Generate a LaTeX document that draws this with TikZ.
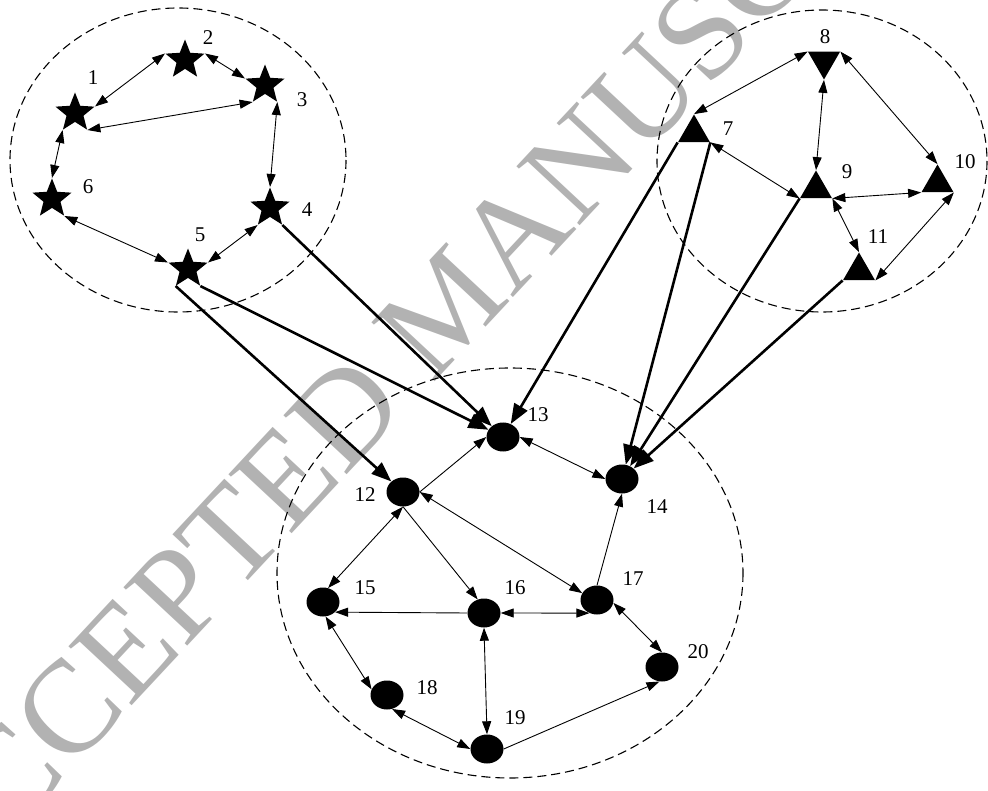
\documentclass[tikz,border=0pt]{standalone}
\usepackage{fontspec}
\setmainfont{Liberation Serif}
\usetikzlibrary{arrows.meta,shapes.geometric}
\begin{document}
\begin{tikzpicture}[x=1pt,y=-1pt,
  st/.style={star,star points=5,star point ratio=2.3,fill=black,minimum size=41pt,inner sep=0pt},
  tri/.style={regular polygon,regular polygon sides=3,fill=black,minimum size=37pt,inner sep=0pt},
  trid/.style={tri,shape border rotate=180},
  dot/.style={ellipse,fill=black,minimum width=33pt,minimum height=29pt,inner sep=0pt},
  lab/.style={font=\fontsize{21}{21}\selectfont,inner sep=0pt},
  e2/.style={line width=0.9pt,{Triangle[length=13pt,width=9pt]}-{Triangle[length=13pt,width=9pt]}},
  e1/.style={line width=0.9pt,-{Triangle[length=13pt,width=9pt]}},
  thk/.style={line width=2.6pt,-{Triangle[length=20pt,width=15pt]}},
  grp/.style={dashed,dash pattern=on 9pt off 5pt,line width=1.1pt},
  wm/.style={text=black!30,font=\fontsize{132}{132}\selectfont,inner sep=0pt}
]
\useasboundingbox (0,0) rectangle (988,791);
\begin{scope}
\clip (0,0) rectangle (988,791);
\node[wm,rotate=47] (wmark) at (447,305) {ACCEPTED MANUSCRIPT};
\end{scope}

% cluster outlines
\draw[grp] (178,160) ellipse [x radius=168, y radius=152];
\draw[grp] (822,161) ellipse [x radius=165, y radius=151];
\draw[grp] (510,573) ellipse [x radius=233, y radius=205];

% stars
\node[st] (n1) at (75,113) {};
\node[st] (n2) at (185,60) {};
\node[st] (n3) at (265,85) {};
\node[st] (n4) at (270,208) {};
\node[st] (n5) at (188,269) {};
\node[st] (n6) at (52,199) {};

% triangles
\node[tri] (n7) at (694,133) {};
\node[trid] (n8) at (824,61) {};
\node[tri] (n9) at (816,189) {};
\node[tri] (n10) at (937.5,183) {};
\node[tri] (n11) at (859,271) {};

% dots
\node[dot] (n12) at (403,492) {};
\node[dot] (n13) at (503,437) {};
\node[dot] (n14) at (622,479) {};
\node[dot] (n15) at (323,602) {};
\node[dot] (n16) at (484,613) {};
\node[dot] (n17) at (597,600) {};
\node[dot] (n18) at (387,695) {};
\node[dot] (n19) at (487,749) {};
\node[dot] (n20) at (662,667) {};

% labels
\node[lab] (l1) at (93,78) {1};
\node[lab] (l2) at (208,38) {2};
\node[lab] (l3) at (302,100) {3};
\node[lab] (l4) at (307,210) {4};
\node[lab] (l5) at (200,235) {5};
\node[lab] (l6) at (88,187) {6};
\node[lab] (l7) at (728,129) {7};
\node[lab] (l8) at (825,37) {8};
\node[lab] (l9) at (847,172) {9};
\node[lab] (l10) at (965,162) {10};
\node[lab] (l11) at (878,237) {11};
\node[lab] (l12) at (365,495) {12};
\node[lab] (l13) at (538,415) {13};
\node[lab] (l14) at (657,507) {14};
\node[lab] (l15) at (365,588) {15};
\node[lab] (l16) at (515,588) {16};
\node[lab] (l17) at (633,579) {17};
\node[lab] (l18) at (427,688) {18};
\node[lab] (l19) at (515,718) {19};
\node[lab] (l20) at (698,652) {20};

% left cluster edges
\draw[e2] (n1.outer point 5) -- (n2.outer point 2);
\draw[e2] (n2.outer point 5) -- (n3.outer point 2);
\draw[e2] (n1.outer point 4) -- (n3.outer point 3);
\draw[e2] (n3.outer point 4) -- (n4.outer point 1);
\draw[e2] (n1.outer point 3) -- (n6.outer point 1);
\draw[e2] (n6.outer point 4) -- (n5.outer point 2);
\draw[e2] (n5.outer point 5) -- (n4.outer point 3);

% right cluster edges
\draw[e2] (n7.corner 1) -- (n8.corner 3);
\draw[e2] (n8.corner 1) -- (n9.corner 1);
\draw[e2] (n8.corner 2) -- (n10.corner 1);
\draw[e2] (n7.corner 3) -- (n9.corner 2);
\draw[e2] (n9.corner 3) -- (n10.corner 2);
\draw[e2] (n9.corner 3) -- (n11.corner 1);
\draw[e2] (n10.corner 3) -- (n11.corner 3);

% bottom cluster edges
\draw[e1] (n12.east) -- (n13.west);
\draw[e2] (n13.east) -- (n14.west);
\draw[e2] (n12.south) -- (n15.70);
\draw[e1] (n12.south) -- (n16.115);
\draw[e2] (n12.east) -- (n17.155);
\draw[e1] (n17.north) -- (n14.south);
\draw[e1] (n16.west) -- (n15.-40);
\draw[e2] (n16.east) -- (n17.240);
\draw[e2] (n15.-80) -- (n18.160);
\draw[e2] (n16.south) -- (n19.north);
\draw[e2] (n18.-70) -- (n19.west);
\draw[e1] (n19.east) -- (n20.-100);
\draw[e2] (n17.-10) -- (n20.north);

% inter-cluster edges
\draw[thk] (n5.outer point 3) -- (n12);
\draw[thk] (n5.outer point 4) -- (n13);
\draw[thk] (n4.outer point 4) -- (n13);
\draw[thk] (n7.corner 2) -- (n13);
\draw[thk] (n7.corner 3) -- (n14);
\draw[thk] (n9.corner 2) -- (n14);
\draw[thk] (n11.corner 2) -- (n14);
\end{tikzpicture}
\end{document}
